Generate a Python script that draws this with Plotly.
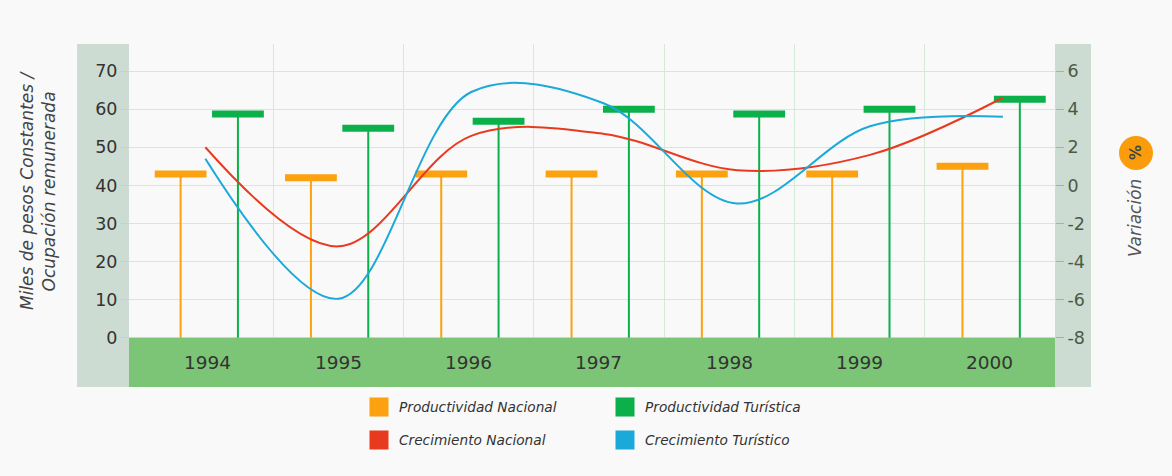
import plotly.graph_objects as go

years = ["1994", "1995", "1996", "1997", "1998", "1999", "2000"]
prod_nacional = [43, 42, 43, 43, 43, 43, 45]
prod_turistica = [58.7, 55, 56.8, 60, 58.7, 60, 62.6]
crec_nacional = [2.0, -3.2, 2.6, 2.7, 0.8, 1.6, 4.6]
crec_turistico = [1.4, -5.95, 4.9, 4.3, -0.95, 3.1, 3.6]
left_ticks = [0, 10, 20, 30, 40, 50, 60, 70]
right_ticks = [-8, -6, -4, -2, 0, 2, 4, 6]

ORANGE = "#fca10f"
GREEN = "#0bb04a"
RED = "#e83a1f"
BLUE = "#1aa9d8"
FONT = "DejaVu Sans"

idx = list(range(len(years)))
x_orange = [i - 0.21 for i in idx]
x_green = [i + 0.23 for i in idx]
x_line = [-0.02 + 1.02 * i for i in idx]
x_bounds = [i + 0.5 for i in idx[:-1]]

fig = go.Figure()

fig.add_trace(go.Scatter(
    x=x_orange, y=prod_nacional, mode="markers", showlegend=False,
    marker=dict(symbol="line-ew", size=37, line=dict(width=7, color=ORANGE), color=ORANGE),
    error_y=dict(type="data", symmetric=False, array=[0] * len(years),
                 arrayminus=prod_nacional, thickness=2, width=0, color=ORANGE),
    hoverinfo="skip"))
fig.add_trace(go.Scatter(
    x=x_green, y=prod_turistica, mode="markers", showlegend=False,
    marker=dict(symbol="line-ew", size=37, line=dict(width=7, color=GREEN), color=GREEN),
    error_y=dict(type="data", symmetric=False, array=[0] * len(years),
                 arrayminus=prod_turistica, thickness=2, width=0, color=GREEN),
    hoverinfo="skip"))
fig.add_trace(go.Scatter(
    x=x_line, y=crec_nacional, mode="lines", yaxis="y2", showlegend=False,
    line=dict(color=RED, width=2, shape="spline", smoothing=1.0)))
fig.add_trace(go.Scatter(
    x=x_line, y=crec_turistico, mode="lines", yaxis="y2", showlegend=False,
    line=dict(color=BLUE, width=2, shape="spline", smoothing=1.0)))

# legend-only entries
for name, col, leg in [("Productividad Nacional", ORANGE, "legend"),
                       ("Productividad Turística", GREEN, "legend"),
                       ("Crecimiento Nacional", RED, "legend2"),
                       ("Crecimiento Turístico", BLUE, "legend2")]:
    fig.add_trace(go.Scatter(
        x=[None], y=[None], mode="markers", name=name, legend=leg,
        marker=dict(symbol="square", size=16, color=col, line=dict(width=3, color=col))))

shapes = [
    dict(type="rect", xref="paper", yref="paper", x0=-0.0561, x1=0, y0=0, y1=1,
         fillcolor="#cddcd2", line=dict(width=0), layer="below"),
    dict(type="rect", xref="paper", yref="paper", x0=1, x1=1.0389, y0=0, y1=1,
         fillcolor="#cddcd2", line=dict(width=0), layer="below"),
    dict(type="rect", xref="paper", yref="y", x0=0, x1=1, y0=-12.9, y1=0,
         fillcolor="#7cc576", line=dict(width=0), layer="above"),
    dict(type="circle", xref="paper", yref="paper",
         x0=(1119 - 129) / 926, x1=(1153 - 129) / 926,
         y0=(387 - 170) / 343, y1=(387 - 136) / 343,
         fillcolor="#fb9c0c", line=dict(width=0), layer="above"),
]

annotations = []
for i, yr in zip(idx, years):
    annotations.append(dict(x=i, y=-6.4, xref="x", yref="y", text=yr, showarrow=False,
                            font=dict(family=FONT, size=18.5, color="#333333")))
annotations.append(dict(
    xref="paper", yref="paper", x=(38 - 129) / 926, y=(387 - 191) / 343,
    text="<i>Miles de pesos Constantes /</i><br><i>Ocupación remunerada</i>", textangle=-90,
    showarrow=False, font=dict(family=FONT, size=17, color="#444444"),
    xanchor="center", yanchor="middle"))
annotations.append(dict(
    xref="paper", yref="paper", x=(1135 - 129) / 926, y=(387 - 218) / 343,
    text="<i>Variación</i>", textangle=-90, showarrow=False,
    font=dict(family=FONT, size=17, color="#555555"), xanchor="center", yanchor="middle"))
annotations.append(dict(
    xref="paper", yref="paper", x=(1136 - 129) / 926, y=(387 - 153) / 343,
    text="<b>%</b>", textangle=-90, showarrow=False,
    font=dict(family=FONT, size=15, color="#444444"), xanchor="center", yanchor="middle"))

legend_font = dict(family=FONT, size=13.7, color="#333333", style="italic")

fig.update_layout(
    width=1172, height=476,
    margin=dict(l=129, r=117, t=44, b=89),
    paper_bgcolor="#f9f9f9", plot_bgcolor="#f9f9f9",
    font=dict(family=FONT, color="#333333"),
    xaxis=dict(range=[-0.606, 6.5], tickvals=x_bounds, showgrid=True,
               gridcolor="#d3ead6", gridwidth=1, zeroline=False,
               showticklabels=False, ticks=""),
    yaxis=dict(range=[-12.9, 77.1], tickvals=left_ticks, showgrid=True,
               gridcolor="#d3ead6", gridwidth=1, zeroline=False,
               ticks="outside", ticklen=7, tickcolor="#b8d8bf",
               tickfont=dict(family=FONT, size=17.5, color="#333333")),
    yaxis2=dict(range=[-10.58, 7.42], overlaying="y", side="right",
                tickvals=right_ticks, ticktext=[str(v) for v in right_ticks],
                showgrid=False, zeroline=False, ticks="outside", ticklen=8,
                tickcolor="#d2a868",
                tickfont=dict(family=FONT, size=17.5, color="#4a5a44")),
    shapes=shapes, annotations=annotations,
    legend=dict(orientation="h", x=(359 - 129) / 926, y=(387 - 407) / 343,
                xanchor="left", yanchor="middle", entrywidth=201, entrywidthmode="pixels",
                bgcolor="rgba(0,0,0,0)", font=legend_font),
    legend2=dict(orientation="h", x=(359 - 129) / 926, y=(387 - 440) / 343,
                 xanchor="left", yanchor="middle", entrywidth=201, entrywidthmode="pixels",
                 bgcolor="rgba(0,0,0,0)", font=legend_font),
    showlegend=True,
)

fig.write_html("out.html", config={"displayModeBar": False},
               post_script="document.body.style.margin='0';document.body.style.background='#f9f9f9';")
